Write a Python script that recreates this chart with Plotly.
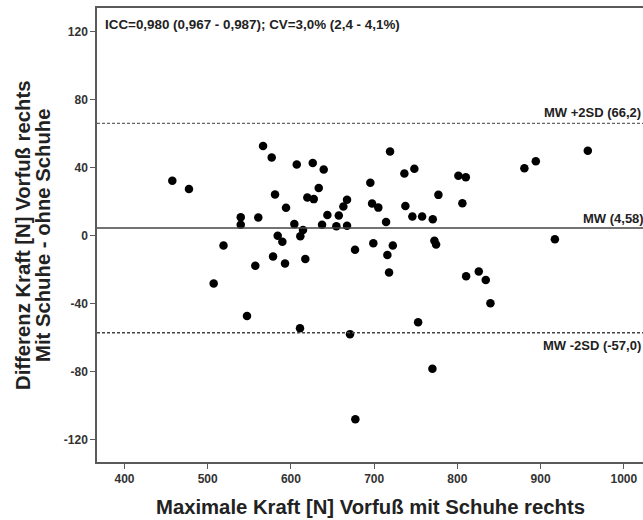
import plotly.graph_objects as go

# Data (Bland-Altman plot)
mean_force = [457.5, 477.5, 507.2, 519.0, 539.7, 539.7, 547.2, 557.2, 560.8, 566.5,
              576.9, 578.5, 580.9, 584.1, 589.7, 592.9, 594.1, 604.1, 607.0, 610.9,
              611.3, 614.5, 617.3, 619.7, 626.2, 627.4, 633.4, 637.4, 639.4, 643.8,
              654.6, 657.5, 663.0, 667.4, 667.4, 671.0, 677.0, 677.4, 695.4, 697.5,
              699.0, 705.0, 714.3, 715.9, 717.9, 719.1, 722.4, 736.3, 737.5, 745.9,
              748.3, 752.8, 757.6, 770.0, 770.4, 772.4, 774.4, 777.2, 801.2, 806.0,
              810.1, 810.5, 825.7, 834.1, 839.7, 880.5, 894.2, 917.1, 956.7]
difference = [32.4, 27.5, -28.0, -5.7, 11.0, 6.5, -47.1, -17.6, 10.8, 52.8,
              46.1, -12.2, 24.3, 0.0, -3.5, -16.3, 16.5, 6.9, 41.9, -54.3,
              -0.2, 3.5, -13.6, 22.5, 42.8, 21.6, 28.2, 6.5, 39.0, 12.2,
              5.7, 12.0, 17.3, 21.2, 5.9, -57.8, -8.2, -107.8, 31.2, 19.0,
              -4.3, 16.6, 8.2, -11.2, -21.6, 49.6, -5.7, 36.7, 17.6, 11.4,
              39.4, -50.8, 11.4, -78.2, 9.8, -2.9, -5.1, 24.1, 35.3, 19.2,
              34.5, -23.7, -21.0, -25.9, -39.6, 39.8, 43.9, -2.0, 50.0]

mw = 4.58
upper = 66.2
lower = -57.0
line_labels = ["MW +2SD (66,2)", "MW (4,58)", "MW -2SD (-57,0)"]
stats_text = "ICC=0,980 (0,967 - 0,987); CV=3,0% (2,4 - 4,1%)"

x_tickvals = [400, 500, 600, 700, 800, 900, 1000]
x_ticktext = ["400", "500", "600", "700", "800", "900", "1000"]
y_tickvals = [120, 80, 40, 0, -40, -80, -120]
y_ticktext = ["120", "80", "40", "0", "-40", "-80", "-120"]

x_title = "Maximale Kraft [N] Vorfuß mit Schuhe rechts"
y_title_1 = "Differenz Kraft [N] Vorfuß rechts"
y_title_2 = "Mit Schuhe - ohne Schuhe"

FONT = "Liberation Sans, Arial, sans-serif"
TXT = "#222222"
AX = "#5a5a5a"

fig = go.Figure()
fig.add_trace(go.Scatter(
    x=mean_force, y=difference, mode="markers",
    marker=dict(color="black", size=8.5, line=dict(width=0)),
    showlegend=False, hoverinfo="skip"))

fig.add_hline(y=mw, line=dict(color="#444444", width=1.5))
fig.add_hline(y=upper, line=dict(color="#666666", width=1.3, dash="3px,2px"))
fig.add_hline(y=lower, line=dict(color="#444444", width=1.3, dash="3px,2px"))

lab_font = dict(family=FONT, size=13, color=TXT, weight="bold")
fig.add_annotation(x=(542 - 97) / 546, xref="paper", y=upper, yref="y", text=line_labels[0],
                   showarrow=False, xanchor="left", yanchor="middle", yshift=11, font=lab_font)
fig.add_annotation(x=(581 - 97) / 546, xref="paper", y=mw, yref="y", text=line_labels[1],
                   showarrow=False, xanchor="left", yanchor="middle", yshift=9.5, font=lab_font)
fig.add_annotation(x=(541 - 97) / 546, xref="paper", y=lower, yref="y", text=line_labels[2],
                   showarrow=False, xanchor="left", yanchor="middle", yshift=-13, font=lab_font)

fig.add_annotation(x=0, xref="paper", y=1, yref="paper", text=stats_text, showarrow=False,
                   xanchor="left", yanchor="middle", xshift=6, yshift=-16.5,
                   font=dict(family=FONT, size=13.4, color=TXT, weight="bold"))

title_font = dict(family=FONT, size=20.3, color=TXT, weight="bold")
fig.add_annotation(x=0.5, xref="paper", y=0, yref="paper", text=x_title, showarrow=False,
                   xanchor="center", yanchor="middle", yshift=-45, font=title_font)
fig.add_annotation(x=0, xref="paper", y=0.5, yref="paper", text=y_title_1, showarrow=False,
                   textangle=-90, xanchor="center", yanchor="middle", xshift=23 - 97,
                   font=title_font)
fig.add_annotation(x=0, xref="paper", y=0.5, yref="paper", text=y_title_2, showarrow=False,
                   textangle=-90, xanchor="center", yanchor="middle", xshift=43 - 97,
                   font=title_font)

tick_font = dict(family=FONT, size=12, color="#333333", weight="bold")
fig.update_xaxes(range=[367, 1023], tickvals=x_tickvals, ticktext=x_ticktext,
                 showgrid=False, zeroline=False, showline=True, linecolor=AX, linewidth=1.5,
                 mirror=True, ticks="outside", ticklen=5, tickwidth=1.3, tickcolor=AX,
                 tickfont=tick_font)
fig.update_yaxes(range=[-133, 134], tickvals=y_tickvals, ticktext=y_ticktext,
                 showgrid=False, zeroline=False, showline=True, linecolor=AX, linewidth=1.5,
                 mirror=False, ticks="outside", ticklen=5, tickwidth=1.3, tickcolor=AX,
                 tickfont=tick_font)

fig.update_layout(width=643, height=520, margin=dict(l=97, r=0, t=8, b=58),
                  plot_bgcolor="white", paper_bgcolor="white")

fig.write_html("out.html", config={"displayModeBar": False},
               post_script="document.body.style.margin='0';document.body.style.overflow='hidden';")
